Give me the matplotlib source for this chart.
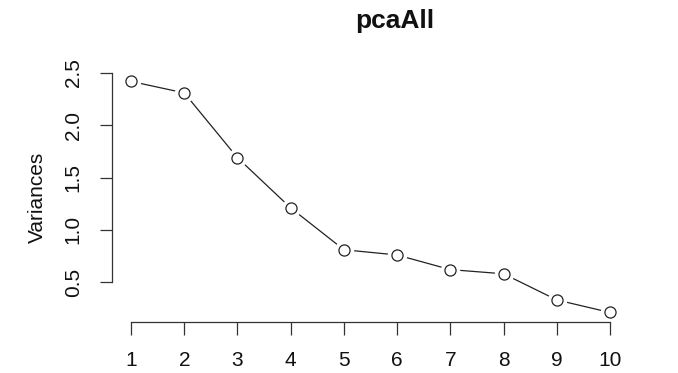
import matplotlib.pyplot as plt

# screeplot values
components = [1, 2, 3, 4, 5, 6, 7, 8, 9, 10]
variances = [2.42, 2.31, 1.69, 1.21, 0.81, 0.76, 0.62, 0.58, 0.33, 0.21]
yticks = [0.5, 1.0, 1.5, 2.0, 2.5]

plt.rcParams['font.family'] = ['Liberation Sans', 'DejaVu Sans']

fig = plt.figure(figsize=(6.78, 3.73), dpi=100)
ax = fig.add_axes([0.165, 0.137, 0.763, 0.670])

# line, then white halo to get the R type="b" gaps, then open circles
ax.plot(components, variances, color='#222222', lw=0.9, zorder=1)
ax.plot(components, variances, 'o', ms=14, mfc='white', mec='none', zorder=2)
ax.plot(components, variances, 'o', ms=8, mfc='white', mec='#222222', mew=0.9, zorder=3)

ax.set_xlim(0.64, 10.36)
ax.set_ylim(0.12, 2.51)
ax.set_xticks(components)
ax.set_yticks(yticks)
ax.set_yticklabels([f'{v:.1f}' for v in yticks], rotation=90, va='center')

for s in ['top', 'right']:
    ax.spines[s].set_visible(False)
ax.spines['left'].set_bounds(0.5, 2.5)
ax.spines['bottom'].set_bounds(1, 10)
for s in ['left', 'bottom']:
    ax.spines[s].set_color('#333333')
    ax.spines[s].set_linewidth(0.9)

ax.tick_params(axis='both', length=9, width=0.9, color='#333333',
               labelsize=15, pad=12, labelcolor='#111111')

ax.set_ylabel('Variances', fontsize=15, color='#111111', labelpad=12)
fig.text(0.583, 0.945, 'pcaAll', fontsize=19, fontweight='bold',
         ha='center', va='center', color='#111111')

fig.savefig('out.png', dpi=100)
